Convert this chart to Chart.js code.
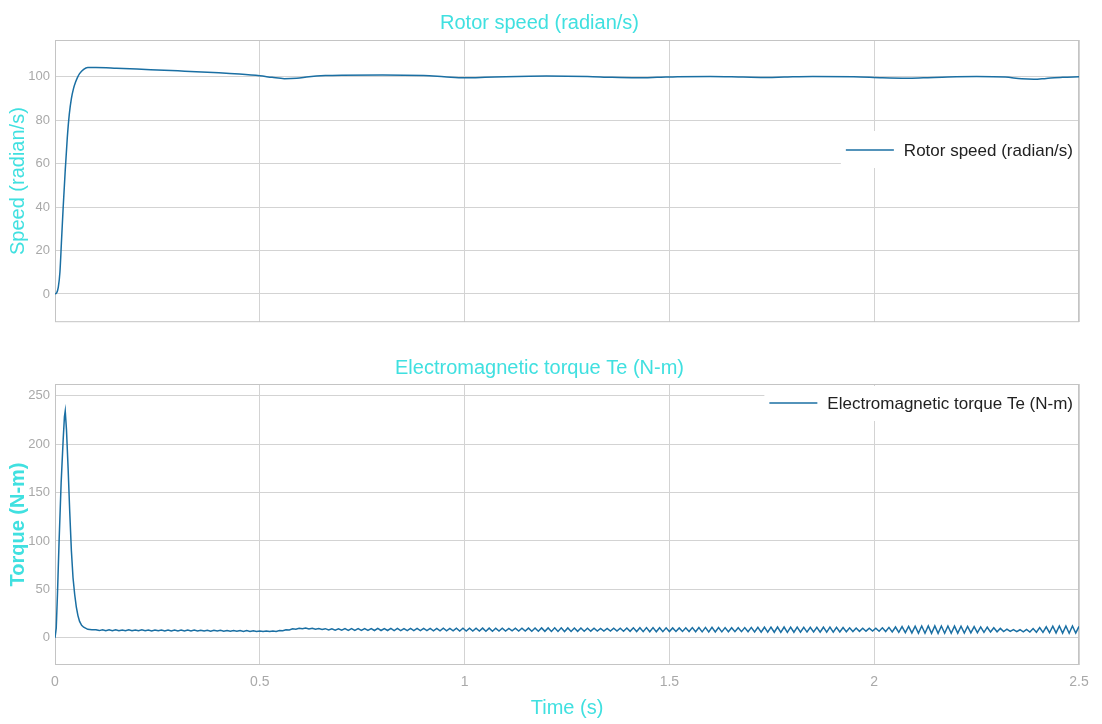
<!DOCTYPE html>
<html>
<head>
<meta charset="utf-8">
<script src="https://cdn.jsdelivr.net/npm/chart.js@4.4.1/dist/chart.umd.min.js"></script>
<style>
  html, body { margin: 0; padding: 0; background: #fff; }
  #speedChart { position: absolute; left: 0; top: 0; }
  #torqueChart { position: absolute; left: 0; top: 340px; }
</style>
</head>
<body>
<canvas id="speedChart" width="1102" height="335"></canvas>
<canvas id="torqueChart" width="1102" height="384"></canvas>
<script>
// rotor speed
const speedTime = [0, 0.004, 0.008, 0.012, 0.016, 0.02, 0.025, 0.03, 0.035, 0.04,
    0.045, 0.05, 0.055, 0.06, 0.07, 0.08, 0.1, 0.15, 0.2, 0.3,
    0.4, 0.45, 0.5, 0.53, 0.56, 0.59, 0.62, 0.66, 0.7, 0.8,
    0.9, 0.95, 1.0, 1.05, 1.1, 1.2, 1.3, 1.36, 1.42, 1.47,
    1.52, 1.6, 1.68, 1.74, 1.78, 1.85, 1.95, 2.02, 2.08, 2.12,
    2.18, 2.25, 2.32, 2.36, 2.39, 2.42, 2.46, 2.5];
const speedValues = [0, 0.5, 3, 10, 25, 40, 57, 72, 83, 90,
    94.5, 97.5, 99.8, 101.5, 103.5, 104.3, 104.3, 104, 103.6, 102.8,
    101.9, 101.3, 100.5, 99.8, 99.2, 99.4, 100.1, 100.6, 100.8, 100.9,
    100.6, 100.1, 99.6, 99.8, 100.1, 100.4, 100.2, 99.8, 99.6, 99.8,
    100.1, 100.2, 99.9, 99.7, 99.9, 100.2, 100.1, 99.6, 99.4, 99.6,
    100.0, 100.2, 99.9, 99.1, 98.9, 99.3, 99.8, 100.1];

// torque start-up spike
const torqueStartTime = [0, 0.003, 0.006, 0.01, 0.015, 0.02, 0.023, 0.025, 0.028, 0.032,
    0.036, 0.04, 0.044, 0.048, 0.052, 0.056, 0.06, 0.065, 0.07, 0.08, 0.09];
const torqueStartValues = [0, 10, 45, 100, 160, 205, 228, 234, 215, 175,
    130, 90, 62, 45, 32, 23, 17, 13, 11, 8.8, 8.3];

// steady-state torque ripple, one reading every 8 ms from t = 0.1 s
const rippleStart = 0.1;
const rippleStep = 0.008;
const torqueRipple = [
    8.3, 7.5, 8.4, 7.3, 8.3, 7.4, 8.4, 7.3, 8.2, 7.4,
    8.3, 7.3, 8.2, 7.4, 8.3, 7.3, 8.2, 7.2, 8.2, 7.3,
    8.1, 7.2, 8.2, 7.1, 8.0, 7.2, 8.1, 7.1, 8.0, 7.0,
    8.0, 7.1, 7.9, 7.0, 7.9, 6.9, 7.8, 7.0, 7.8, 6.9,
    7.7, 6.8, 7.6, 6.8, 7.6, 6.7, 7.5, 6.6, 7.4, 6.6,
    7.2, 6.5, 7.1, 6.5, 7.2, 6.7, 7.6, 7.3, 8.4, 8.2, 9.4, 9.0,
    10.0, 9.4, 10.1, 9.2, 9.9, 8.9, 9.6, 8.6,
    9.5, 8.2, 9.4, 8.0, 9.4, 7.9, 9.5, 7.8, 9.5, 7.8,
    9.6, 7.7, 9.6, 7.7, 9.6, 7.6, 9.7, 7.6, 9.6, 7.6,
    9.7, 7.5, 9.7, 7.5, 9.6, 7.5, 9.7, 7.4, 9.7, 7.4,
    9.8, 7.4, 9.8, 7.3, 9.8, 7.3, 9.9, 7.2, 9.8, 7.2, 9.9, 7.1,
    9.9, 7.1, 10.0, 7.0, 10.0, 7.0, 10.1, 6.9, 10.1, 6.9, 10.0, 7.0,
    9.9, 7.1, 9.8, 7.2, 9.9, 7.1, 10.0, 7.0, 10.1, 6.9, 10.2, 6.8,
    10.3, 6.7, 10.3, 6.6, 10.4, 6.6, 10.4, 6.5, 10.3, 6.6, 10.2, 6.7, 10.1, 6.8,
    10.0, 6.9, 9.9, 7.0, 9.8, 7.1, 9.8, 7.1, 9.9, 7.0, 10.0, 6.9, 10.2, 6.7,
    10.4, 6.5, 10.5, 6.4, 10.6, 6.3, 10.6, 6.3, 10.5, 6.4, 10.4, 6.5,
    10.3, 6.6, 10.3, 6.6, 10.4, 6.5, 10.6, 6.3, 10.7, 6.2, 10.8, 6.1, 10.8, 6.1,
    10.7, 6.2, 10.6, 6.3, 10.5, 6.4, 10.5, 6.4, 10.6, 6.3, 10.8, 6.1, 10.9, 6.0,
    11.0, 5.9, 11.1, 5.8, 11.2, 5.7, 11.2, 5.7, 11.1, 5.8, 11.0, 5.9, 10.9, 6.0,
    10.8, 6.1, 10.9, 6.0, 11.0, 5.9, 11.0, 5.9, 10.8, 6.1, 10.6, 6.3, 10.4, 6.5,
    10.2, 6.7, 10.0, 6.9, 9.9, 7.0, 10.0, 6.9, 10.4, 6.5, 10.8, 6.1, 11.2, 5.7,
    11.6, 5.4, 11.9, 5.1, 12.1, 4.9, 12.2, 4.8, 12.3, 4.7, 12.3, 4.7, 12.2, 4.8,
    12.2, 4.8, 12.1, 4.9, 12.0, 5.0, 11.8, 5.2, 11.6, 5.4, 11.3, 5.7, 11.0, 6.0,
    10.5, 6.3, 9.8, 6.5, 9.0, 6.6, 8.5, 6.4, 8.4, 6.2, 8.8, 6.0, 9.6, 5.8,
    10.6, 5.6, 11.4, 5.3, 12.0, 5.1, 12.3, 4.9, 12.3, 4.8, 12.2, 4.9, 11.8
];

const FONT = '"Liberation Sans", Arial, Helvetica, sans-serif';
const CYAN = '#40e0e0';
const TICK_COLOR = '#a9a9a9';
const GRID_COLOR = '#d3d3d3';
const LINE_COLOR = '#1a6fa3';

const speedPoints = speedTime.map((t, i) => ({ x: t, y: speedValues[i] }));
const torquePoints = torqueStartTime.map((t, i) => ({ x: t, y: torqueStartValues[i] }))
    .concat(torqueRipple.map((v, i) => ({ x: +(rippleStart + i * rippleStep).toFixed(3), y: v })));

// grey box round the plot area
const framePlugin = {
    id: 'frame',
    beforeDatasetsDraw(chart) {
        const { ctx, chartArea: a } = chart;
        ctx.save();
        ctx.strokeStyle = '#c4c4c4';
        ctx.lineWidth = 1;
        ctx.strokeRect(a.left + 0.5, a.top + 0.5, a.right - a.left - 1, a.bottom - a.top - 1);
        ctx.restore();
    }
};

// MATLAB style legend sitting inside the plot, right aligned
const boxLegend = {
    id: 'boxLegend',
    afterDraw(chart, args, opts) {
        const { ctx, chartArea: a } = chart;
        ctx.save();
        ctx.font = '17px ' + FONT;
        const textW = ctx.measureText(opts.text).width;
        const textX = a.right - 6 - textW;
        const lineEnd = textX - 10;
        const lineStart = lineEnd - 48;
        const y = a.top + opts.offsetY;
        const boxTop = Math.max(y - 19, a.top + 2);
        ctx.fillStyle = '#fff';
        ctx.fillRect(lineStart - 5, boxTop, a.right - 1 - (lineStart - 5), y + 18 - boxTop);
        ctx.strokeStyle = LINE_COLOR;
        ctx.lineWidth = 1.5;
        ctx.beginPath();
        ctx.moveTo(lineStart, y);
        ctx.lineTo(lineEnd, y);
        ctx.stroke();
        ctx.fillStyle = '#222';
        ctx.textBaseline = 'middle';
        ctx.fillText(opts.text, textX, y + 1);
        ctx.restore();
    }
};

function xScale(showLabels, height) {
    return {
        type: 'linear',
        min: 0,
        max: 2.5,
        ticks: {
            display: showLabels,
            stepSize: 0.5,
            padding: 9,
            maxRotation: 0,
            color: TICK_COLOR,
            font: { size: 14, family: FONT },
            callback: v => +v.toFixed(2)
        },
        grid: { color: GRID_COLOR, drawTicks: false },
        border: { display: false },
        title: {
            display: showLabels,
            text: 'Time (s)',
            color: CYAN,
            font: { size: 20, family: FONT },
            padding: { top: 4, bottom: 4 }
        },
        afterFit: s => { s.height = height; }
    };
}

function yScale(min, max, step, title, weight) {
    return {
        min: min,
        max: max,
        ticks: {
            stepSize: step,
            includeBounds: false,
            padding: 5,
            color: TICK_COLOR,
            font: { size: 13, family: FONT }
        },
        grid: { color: GRID_COLOR, drawTicks: false },
        border: { display: false },
        title: {
            display: true,
            text: title,
            color: CYAN,
            font: { size: 20, family: FONT, weight: weight },
            padding: { top: 6, bottom: 0 }
        },
        afterFit: s => { s.width = 55; }
    };
}

function makeChart(id, label, points, opts) {
    return new Chart(id, {
        type: 'line',
        data: {
            datasets: [{
                label: label,
                data: points,
                borderColor: LINE_COLOR,
                borderWidth: 1.5,
                pointRadius: 0,
                fill: false,
                tension: opts.smooth ? 0.4 : 0,
                cubicInterpolationMode: opts.smooth ? 'monotone' : 'default'
            }]
        },
        options: {
            responsive: false,
            animation: false,
            devicePixelRatio: 1,
            layout: { padding: { left: 0, right: 23, top: 0, bottom: 0 } },
            scales: {
                x: xScale(opts.showX, opts.xHeight),
                y: yScale(opts.yMin, opts.yMax, opts.yStep, opts.yTitle, opts.yWeight)
            },
            plugins: {
                legend: { display: false },
                tooltip: { enabled: false },
                title: {
                    display: true,
                    text: label,
                    color: CYAN,
                    font: { size: 20, family: FONT, weight: 'normal' },
                    padding: opts.titlePadding
                },
                boxLegend: { text: label, offsetY: opts.legendY }
            }
        },
        plugins: [framePlugin, boxLegend]
    });
}

makeChart('speedChart', 'Rotor speed (radian/s)', speedPoints, {
    smooth: true,
    showX: false,
    xHeight: 10,
    yMin: -13,
    yMax: 117,
    yStep: 20,
    yTitle: 'Speed (radian/s)',
    yWeight: 'normal',
    titlePadding: { top: 11, bottom: 5 },
    legendY: 110
});

makeChart('torqueChart', 'Electromagnetic torque Te (N-m)', torquePoints, {
    smooth: false,
    showX: true,
    xHeight: 59,
    yMin: -28,
    yMax: 262,
    yStep: 50,
    yTitle: 'Torque (N-m)',
    yWeight: 'bold',
    titlePadding: { top: 16, bottom: 4 },
    legendY: 19
});
</script>
</body>
</html>
